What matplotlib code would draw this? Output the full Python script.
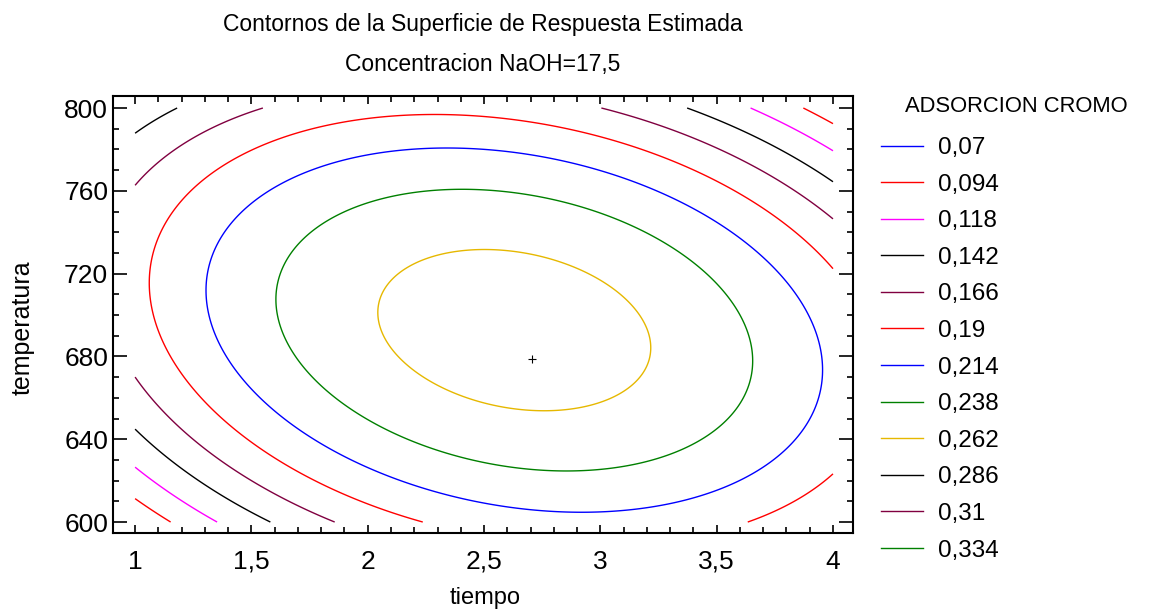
import numpy as np
import matplotlib.pyplot as plt
from matplotlib.lines import Line2D
from matplotlib.ticker import MultipleLocator

plt.rcParams['font.family'] = ['Liberation Sans', 'DejaVu Sans']

# modelo cuadratico estimado (leido de las elipses del grafico)
z_max = 0.2737
x_c = 2.63
y_c = 692.7
a_xx = 0.0357
a_yy = 0.081
a_xy = 0.0235

niveles = [0.07, 0.094, 0.118, 0.142, 0.166, 0.19, 0.214, 0.238, 0.262, 0.286, 0.31, 0.334]
colores = ['blue', 'red', 'magenta', 'black', '#800040', 'red', 'blue', 'green',
           '#e6b800', 'black', '#800040', 'green']
etiquetas = ['0,07', '0,094', '0,118', '0,142', '0,166', '0,19', '0,214', '0,238',
             '0,262', '0,286', '0,31', '0,334']

x_ticks = [1, 1.5, 2, 2.5, 3, 3.5, 4]
x_labels = ['1', '1,5', '2', '2,5', '3', '3,5', '4']
y_ticks = [600, 640, 680, 720, 760, 800]
punto = (2.706, 678.7)

tiempo = np.linspace(1, 4, 301)
temperatura = np.linspace(600, 800, 301)
X, Y = np.meshgrid(tiempo, temperatura)
dx = X - x_c
dv = (Y - y_c) / 100
Z = z_max - a_xx * dx**2 - a_yy * dv**2 - a_xy * dx * dv

fig = plt.figure(figsize=(11.59, 6.16), dpi=100)
ax = fig.add_axes([113/1159, 1 - 533/616, 740/1159, 437/616])

ax.contour(X, Y, Z, levels=niveles, colors=colores, linewidths=1)
ax.plot(punto[0], punto[1], marker='+', color='black', ms=6, mew=0.8)

ax.set_xlim(0.905, 4.086)
ax.set_ylim(594.7, 805.8)
ax.set_xticks(x_ticks)
ax.set_xticklabels(x_labels)
ax.set_yticks(y_ticks)
ax.xaxis.set_minor_locator(MultipleLocator(0.1))
ax.yaxis.set_minor_locator(MultipleLocator(10))
ax.tick_params(which='both', direction='in', top=True, right=True, width=1.2)
ax.tick_params(which='major', axis='x', length=6, labelsize=19, pad=12)
ax.tick_params(which='major', axis='y', length=10, labelsize=19, pad=3.5)
ax.tick_params(which='minor', length=4)
for s in ax.spines.values():
    s.set_linewidth(1.5)

fig.text(483/1159, 1 - 25/616, 'Contornos de la Superficie de Respuesta Estimada',
         ha='center', va='center', fontsize=16.5)
fig.text(483/1159, 1 - 65/616, 'Concentracion NaOH=17,5',
         ha='center', va='center', fontsize=16.5)
fig.text(485/1159, 1 - 598/616, 'tiempo', ha='center', va='center', fontsize=17)
fig.text(23/1159, 1 - 328/616, 'temperatura', ha='center', va='center',
         rotation=90, fontsize=18)

fig.text(905/1159, 1 - 106/616, 'ADSORCION CROMO', ha='left', va='center', fontsize=15.8)
handles = [Line2D([], [], color=c, lw=1) for c in colores]
fig.legend(handles, etiquetas, loc='upper left', bbox_to_anchor=(881/1159, 1 - 137/616),
           frameon=False, fontsize=17.5, handlelength=1.73, handletextpad=0.62,
           labelspacing=0.6, borderpad=0, borderaxespad=0)

fig.savefig('out.png', dpi=100)
